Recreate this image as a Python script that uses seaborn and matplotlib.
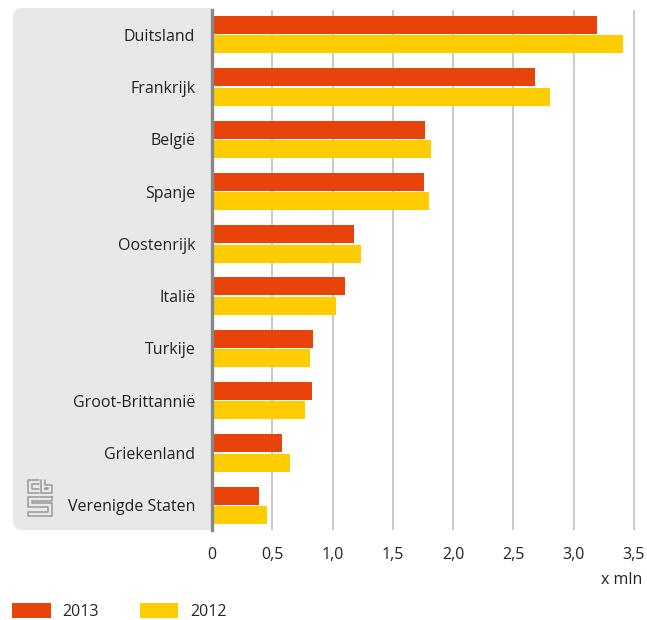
import seaborn as sns
import matplotlib.pyplot as plt
import pandas as pd
from matplotlib.patches import FancyBboxPatch, Rectangle, Patch

landen = ["Duitsland", "Frankrijk", "België", "Spanje", "Oostenrijk", "Italië",
          "Turkije", "Groot-Brittannië", "Griekenland", "Verenigde Staten"]
waarden_2013 = [3.19, 2.68, 1.77, 1.76, 1.18, 1.10, 0.84, 0.83, 0.58, 0.39]
waarden_2012 = [3.41, 2.80, 1.82, 1.80, 1.24, 1.03, 0.81, 0.77, 0.65, 0.46]
jaren = ["2013", "2012"]
kleuren = ["#E8430A", "#FFCC00"]
xticks = [0, 0.5, 1.0, 1.5, 2.0, 2.5, 3.0, 3.5]

df = pd.DataFrame({
    "land": landen * 2,
    "jaar": ["2013"] * len(landen) + ["2012"] * len(landen),
    "waarde": waarden_2013 + waarden_2012,
})

sns.set_style("white")
plt.rcParams["font.family"] = ["Open Sans", "DejaVu Sans"]

fig = plt.figure(figsize=(6.47, 6.2), dpi=100)
W, H = 647, 620

# grijze achtergrond achter de labels (alleen links afgerond)
box = FancyBboxPatch((13 / W, 90 / H), (198 / W), (522 / H),
                     boxstyle="round,pad=0,rounding_size=0.015",
                     transform=fig.transFigure, facecolor="#E8E8E8",
                     edgecolor="none", zorder=-5)
fig.patches.append(box)
fig.patches.append(Rectangle((180 / W, 90 / H), 32 / W, 522 / H,
                             transform=fig.transFigure, facecolor="#E8E8E8",
                             edgecolor="none", zorder=-5))

ax = fig.add_axes([212 / W, 90 / H, 434 / W, 520 / H])
ax.set_facecolor("none")
sns.barplot(data=df, y="land", x="waarde", hue="jaar", hue_order=jaren,
            palette=kleuren, orient="h", width=0.74, saturation=1,
            linewidth=0, ax=ax, legend=False, zorder=3)
for b in ax.patches:
    h = b.get_height()
    b.set_height(h * 0.93)
    b.set_y(b.get_y() + h * 0.035)

ax.set_xlim(0, 3.6)
ax.set_ylim(9.47, -0.47)
ax.set_xticks(xticks)
ax.set_xticklabels([f"{v:.1f}".replace(".", ",") if v else "0" for v in xticks])
ax.xaxis.grid(True, color="#BBBBBB", linewidth=1.1, zorder=0)
ax.set_axisbelow(True)
for s in ["top", "right", "bottom"]:
    ax.spines[s].set_visible(False)
ax.spines["left"].set_color("#888888")
ax.spines["left"].set_linewidth(2.4)
ax.spines["left"].set_zorder(4)
ax.tick_params(axis="y", length=0, pad=12, labelsize=11.5, labelcolor="#222222")
ax.tick_params(axis="x", length=0, pad=12, labelsize=11.5, labelcolor="#222222")
ax.set_xlabel("")
ax.set_ylabel("")
fig.text(642 / W, 1 - 580 / H, "x mln", ha="right", va="center",
         fontsize=11.5, color="#222222")

# cbs-logo, vereenvoudigd
lc = "#999999"
logo = fig.add_axes([27 / W, 1 - 517 / H, 26 / W, 38 / H])
logo.set_xlim(0, 10)
logo.set_ylim(0, 15)
logo.axis("off")
kw = dict(color=lc, linewidth=1.1)
# c
logo.plot([4.5, 0.5, 0.5, 4.5], [14.5, 14.5, 9.5, 9.5], **kw)
logo.plot([4.5, 2.0, 2.0, 4.5], [13.0, 13.0, 11.0, 11.0], **kw)
# b
logo.plot([5.5, 5.5, 9.5, 9.5, 7.0, 7.0], [14.5, 9.5, 9.5, 12.5, 12.5, 14.5], **kw)
logo.plot([7.0, 8.0, 8.0, 7.0, 7.0], [11.0, 11.0, 11.5, 11.5, 11.0], **kw)
# s
logo.plot([9.5, 0.5, 0.5, 8.0, 8.0, 0.5, 0.5, 9.5, 9.5, 2.0, 2.0, 9.5, 9.5],
          [8.0, 8.0, 4.0, 4.0, 2.0, 2.0, 0.5, 0.5, 5.5, 5.5, 6.5, 6.5, 8.0], **kw)

handles = [Patch(facecolor=c, edgecolor="none") for c in kleuren]
fig.legend(handles, jaren, loc="lower left", bbox_to_anchor=(-2 / W, -14 / H),
           ncol=2, frameon=False, fontsize=11.5, handlelength=2.4,
           handleheight=1.1, handletextpad=0.75, columnspacing=2.55)

fig.savefig("out.png", dpi=100)
